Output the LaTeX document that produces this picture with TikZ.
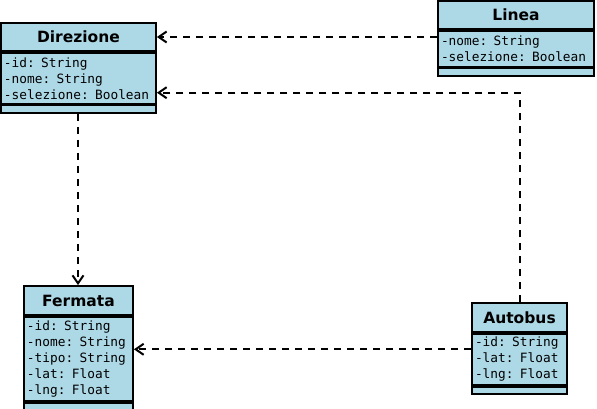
\documentclass[tikz,border=0pt]{standalone}
\usepackage{fontspec}
\setmainfont{DejaVu Sans}
\setmonofont{DejaVu Sans Mono}
\usetikzlibrary{positioning,arrows.meta}
\definecolor{classfill}{RGB}{173,216,230}
\tikzset{
    classhead/.style={draw, fill=classfill, line width=1.8pt, inner sep=0pt, minimum height=28pt, font=\bfseries\fontsize{15.5}{18}\selectfont},
    classattr/.style={draw, fill=classfill, line width=1.8pt, inner xsep=3pt, inner ysep=2pt, align=left, font=\ttfamily\fontsize{12.8}{16}\selectfont},
    classops/.style={draw, fill=classfill, line width=1.8pt, inner sep=0pt, minimum height=7.5pt},
    depends/.style={->, >={Straight Barb[length=8pt,width=11pt]}, line width=2pt, dash pattern=on 7pt off 6pt}
}
\begin{document}
\begin{tikzpicture}[x=1pt, y=-1pt]
        \useasboundingbox (0,0) rectangle (597,409);

        % Direzione
        \node[classhead, minimum width=155pt](dirHead) at (78.5, 37){Direzione};
        \node[classattr, text width=149pt, minimum height=51pt, below=0pt of dirHead](dirAttr){-id: String\\-nome: String\\-selezione: Boolean};
        \node[classops, minimum width=155pt, below=0pt of dirAttr](dirOps){};

        % Linea
        \node[classhead, minimum width=156pt](lineaHead) at (516, 15){Linea};
        \node[classattr, text width=150pt, minimum height=36pt, below=0pt of lineaHead](lineaAttr){-nome: String\\-selezione: Boolean};
        \node[classops, minimum width=156pt, below=0pt of lineaAttr](lineaOps){};

        % Fermata
        \node[classhead, minimum width=109pt, minimum height=29pt](ferHead) at (78.5, 300.5){Fermata};
        \node[classattr, text width=103pt, minimum height=84pt, below=0pt of ferHead](ferAttr){-id: String\\-nome: String\\-tipo: String\\-lat: Float\\-lng: Float};
        \node[classops, minimum width=109pt, below=0pt of ferAttr](ferOps){};

        % Autobus
        \node[classhead, minimum width=95pt, minimum height=29pt](busHead) at (519.5, 317.5){Autobus};
        \node[classattr, text width=89pt, minimum height=51pt, below=0pt of busHead](busAttr){-id: String\\-lat: Float\\-lng: Float};
        \node[classops, minimum width=95pt, below=0pt of busAttr](busOps){};

        % dipendenze
        \draw[depends](lineaAttr.west |- dirHead.east) -- (dirHead.east);
        \draw[depends]([xshift=0.5pt]busHead.north) |- ([yshift=12pt]dirAttr.south east);
        \draw[depends]([xshift=-0.5pt]dirOps.south) -- ([xshift=-0.5pt]ferHead.north);
        \draw[depends]([yshift=10pt]busAttr.west) coordinate (busOut) -- (busOut -| ferAttr.east);

    \end{tikzpicture}
\end{document}
